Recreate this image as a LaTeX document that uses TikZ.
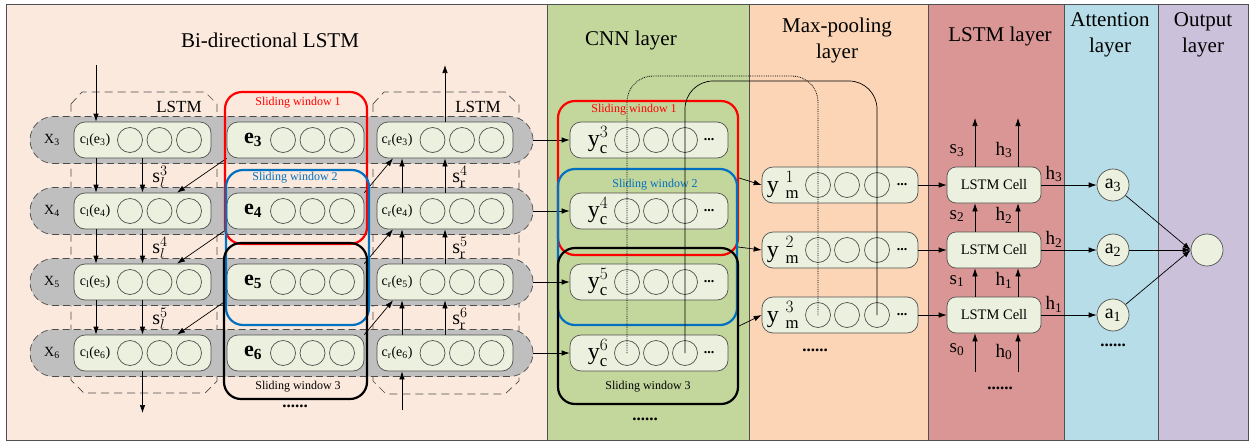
\documentclass[tikz,border=0pt]{standalone}
\usepackage{fontspec}
\setmainfont{Liberation Serif}
\setmathrm{Liberation Serif}
\usetikzlibrary{positioning,arrows.meta}
\definecolor{bilstmbg}{RGB}{252,233,221}
\definecolor{cnnbg}{RGB}{195,214,155}
\definecolor{poolbg}{RGB}{251,213,181}
\definecolor{lstmbg}{RGB}{217,150,148}
\definecolor{attbg}{RGB}{183,221,232}
\definecolor{outbg}{RGB}{204,193,218}
\definecolor{cellgrn}{RGB}{235,241,222}
\definecolor{bandgray}{RGB}{191,191,191}
\definecolor{edgegray}{RGB}{80,80,80}
\definecolor{winblue}{RGB}{0,112,192}
\newcommand{\fsz}[1]{\fontsize{#1}{#1}\selectfont}
\newcommand{\titlefont}{\fontsize{21}{26}\selectfont}

\begin{document}
\begin{tikzpicture}[x=1pt, y=-1pt, line width=0.7pt,
	box/.style={draw=edgegray, fill=cellgrn, rounded corners=11pt, minimum height=36pt, inner sep=0pt},
	unit/.style={circle, draw=edgegray, minimum size=25pt, inner sep=0pt},
	band/.style={draw=black!70, fill=bandgray, dash pattern=on 7pt off 4pt, rounded corners=23.5pt, minimum width=503pt, minimum height=47pt, inner sep=0pt},
	win/.style={rounded corners=17pt, line width=2.2pt, inner sep=0pt},
	wtxt/.style={font=\fsz{12}},
	arr/.style={-{Latex[length=8pt,width=5.5pt]}, line width=0.7pt},
	dots/.style={font=\fsz{17}\bfseries}]
	\useasboundingbox (0,0) rectangle (1249,442);

	% layer panels
	\filldraw[fill=bilstmbg, draw=edgegray] (6,4) rectangle (547,440);
	\filldraw[fill=cnnbg, draw=edgegray] (547,4) rectangle (749,440);
	\filldraw[fill=poolbg, draw=edgegray] (749,4) rectangle (928,440);
	\filldraw[fill=lstmbg, draw=edgegray] (928,4) rectangle (1064,440);
	\filldraw[fill=attbg, draw=edgegray] (1064,4) rectangle (1158,440);
	\filldraw[fill=outbg, draw=edgegray] (1158,4) rectangle (1248,440);

	\node[font=\titlefont] (tbi) at (270,40) {Bi-directional LSTM};
	\node[font=\titlefont] (tcnn) at (631,40) {CNN layer};
	\node[font=\titlefont, align=center] (tpool) at (837,40) {Max-pooling\\layer};
	\node[font=\titlefont] (tlstm) at (1000,36) {LSTM layer};
	\node[font=\titlefont, align=center] (tatt) at (1110,35) {Attention\\layer};
	\node[font=\titlefont, align=center] (tout) at (1203,35) {Output\\layer};

	% forward and backward LSTM frames
	\draw[black!70, dash pattern=on 8pt off 5pt] (71,104) -- (82,92) -- (205,92) -- (217,104) -- (217,381) -- (205,393) -- (84,393) -- (71,380) -- cycle;
	\draw[black!70, dash pattern=on 8pt off 5pt] (373,104) -- (384,92) -- (505,92) -- (519,105) -- (519,381) -- (505,394) -- (386,394) -- (373,381) -- cycle;
	\node[font=\fsz{17}] (lstml) at (179,107) {LSTM};
	\node[font=\fsz{17}] (lstmr) at (478,107) {LSTM};

	% word rows
	\foreach \r [evaluate=\r as \yy using {140+71*(\r-3)}] in {3,4,5,6} {
		\node[band] (band\r) at (281.5,\yy) {};
		\node[font=\fsz{14}] (x\r) at (52,\yy) {X\textsubscript{\r}};
		\node[box, minimum width=137pt] (cl\r) at (142.5,\yy) {};
		\node[box, minimum width=137pt] (e\r) at (295.5,\yy) {};
		\node[box, minimum width=136pt] (cr\r) at (445,\yy) {};
		\node[font=\fsz{14}] (cl\r-l) at ([xshift=-47.5pt]cl\r.center) {c\textsubscript{l}(e\textsubscript{\r})};
		\node[font=\fsz{22}\bfseries] (e\r-l) at ([xshift=-42.5pt]e\r.center) {e\textsubscript{\r}};
		\node[font=\fsz{14}] (cr\r-l) at ([xshift=-48pt]cr\r.center) {c\textsubscript{r}(e\textsubscript{\r})};
		\foreach \dx [count=\k] in {-12.5,17,46.5} {
			\node[unit] (cl\r-\k) at ([xshift=\dx pt]cl\r.center) {};
			\node[unit] (e\r-\k) at ([xshift=\dx pt]e\r.center) {};
			\node[unit] (cr\r-\k) at ([xshift=\dx pt]cr\r.center) {};
		}
	}

	% state flow between rows
	\foreach \r/\n [evaluate=\r as \yy using {140+71*(\r-3)+37}] in {3/4,4/5,5/6} {
		\draw[arr] ([xshift=-46.5pt]cl\r.south) -- ([xshift=-46.5pt]cl\n.north);
		\draw[arr] (cl\r.south) -- (cl\n.north);
		\draw[arr] (e\r.south west) -- ([xshift=34.5pt]cl\n.north);
		\draw[arr] ([xshift=-43pt]cr\n.north) -- ([xshift=-43pt]cr\r.south);
		\draw[arr] (cr\n.north) -- (cr\r.south);
		\draw[arr] (e\n.north east) -- ([xshift=-52pt]cr\r.south);
		\node[font=\fsz{20}] (sl\r) at (160,\yy) {$\mathrm{s}^{\r}_{l}$};
		\node[font=\fsz{20}] (sr\n) at (460,\yy) {$\mathrm{s}^{\n}_{\mathrm{r}}$};
	}
	\coordinate (intop) at (96,65);
	\coordinate (outtop) at (445,65);
	\coordinate (outbot) at (142.5,413);
	\coordinate (inbot) at (402,410);
	\draw[arr] (intop) -- (intop |- cl3.north);
	\draw[arr] (cr3.north) -- (outtop);
	\draw[arr] (cl6.south) -- (outbot);
	\draw[arr] (inbot) -- (inbot |- cr6.south);

	% sliding windows over the embeddings
	\node[win, draw=red, minimum width=142pt, minimum height=152pt] (win1) at (296,168) {};
	\node[win, draw=winblue, minimum width=143pt, minimum height=155pt] (win2) at (297.5,247.5) {};
	\node[win, draw=black, minimum width=143pt, minimum height=156pt] (win3) at (295.5,321) {};
	\node[wtxt, red] (win1-t) at (298,103) {Sliding window 1};
	\node[wtxt, winblue] (win2-t) at (295,178) {Sliding window 2};
	\node[wtxt] (win3-t) at (298,387) {Sliding window 3};
	\node[dots] (dl) at (295,406) {......};

	% CNN layer
	\foreach \r [evaluate=\r as \yy using {140+71*(\r-3)}] in {3,4,5,6} {
		\node[box, minimum width=158pt] (yc\r) at (649,\yy) {};
		\node[font=\fsz{24}] (yc\r-l) at ([xshift=-51pt]yc\r.center) {$\mathrm{y}^{\r}_{\mathrm{c}}$};
		\foreach \dx [count=\k] in {-22,7,36}
			\node[unit] (yc\r-\k) at ([xshift=\dx pt]yc\r.center) {};
		\node[font=\fsz{14}\bfseries] (yc\r-d) at ([xshift=60pt]yc\r.center) {...};
		\draw[arr] (band\r.east) -- (yc\r.west);
	}
	\node[win, draw=red, minimum width=180pt, minimum height=154pt] (cwin1) at (648,178) {};
	\node[win, draw=winblue, minimum width=179pt, minimum height=156pt] (cwin2) at (647.5,247) {};
	\node[win, draw=black, minimum width=180pt, minimum height=156pt] (cwin3) at (648,326) {};
	\node[wtxt, red] (cwin1-t) at (634,110) {Sliding window 1};
	\node[wtxt, winblue] (cwin2-t) at (655,185) {Sliding window 2};
	\node[wtxt] (cwin3-t) at (648,387) {Sliding window 3};
	\node[dots] (dc) at (645,419) {......};

	% max-pooling, LSTM and attention rows
	\foreach \k [evaluate=\k as \yy using {185+65*(\k-1)}, evaluate=\k as \c using {int(4-\k)}] in {1,2,3} {
		\node[box, minimum width=156pt] (ym\k) at (840,\yy) {};
		\node[font=\fsz{24}] (ym\k-l) at ([xshift=-57pt]ym\k.center) {$\mathrm{y}\;{}^{\k}_{\mathrm{m}}$};
		\foreach \dx [count=\j] in {-22,7,37}
			\node[unit] (ym\k-\j) at ([xshift=\dx pt]ym\k.center) {};
		\node[font=\fsz{14}\bfseries] (ym\k-d) at ([xshift=62pt]ym\k.center) {...};
		\node[box, rounded corners=9pt, minimum width=94pt, font=\fsz{14.5}] (cell\c) at (994,\yy) {LSTM Cell};
		\node[circle, draw=edgegray, fill=cellgrn, minimum size=32pt, inner sep=0pt, font=\fsz{20}] (a\c) at (1113,\yy) {a\textsubscript{\c}};
		\node[font=\fsz{19}] (s\c) at (957,\yy-34) {s\textsubscript{\c}};
		\node[font=\fsz{19}] (h\c) at (1004,\yy-35) {h\textsubscript{\c}};
		\node[font=\fsz{19}] (ho\c) at (1054,\yy-11) {h\textsubscript{\c}};
		\draw[arr] (ym\k.east) -- (cell\c.west);
		\draw[arr] (cell\c.east) -- (a\c.west);
	}
	\draw[arr] (cwin1.east) -- (ym1.west);
	\draw[arr] (cwin2.east) -- (ym2.west);
	\draw[arr] (cwin3.east) -- (ym3.west);
	\node[dots] (dp) at (815,350) {......};

	% feature taps from the CNN map to the pooled rows
	\coordinate (dtop) at (0,76);
	\coordinate (stop) at (0,81);
	\draw[densely dotted, line width=0.8pt, rounded corners=26pt] (yc6-1.center) -- (yc6-1.center |- dtop) -- (ym3-1.center |- dtop) -- (ym3-1.center);
	\draw[rounded corners=28pt] (yc6-3.center) -- (yc6-3.center |- stop) -- (ym3-3.center |- stop) -- (ym3-3.center);

	% recurrent links of the LSTM layer
	\foreach \c/\d in {1/2,2/3} {
		\draw[arr] ([xshift=-19pt]cell\c.north) -- ([xshift=-19pt]cell\d.south);
		\draw[arr] ([xshift=24pt]cell\c.north) -- ([xshift=24pt]cell\d.south);
	}
	\coordinate (s4) at (975,118);
	\coordinate (h4) at (1018,118);
	\coordinate (s0c) at (975,372);
	\coordinate (h0c) at (1018,372);
	\draw[arr] ([xshift=-19pt]cell3.north) -- (s4);
	\draw[arr] ([xshift=24pt]cell3.north) -- (h4);
	\draw[arr] (s0c) -- (s0c |- cell1.south);
	\draw[arr] (h0c) -- (h0c |- cell1.south);
	\node[font=\fsz{19}] (s0) at (957,350) {s\textsubscript{0}};
	\node[font=\fsz{19}] (h0) at (1004,352) {h\textsubscript{0}};
	\node[dots] (ds) at (1000,388) {......};

	% attention and output
	\node[dots] (da) at (1113,345) {......};
	\node[circle, draw=edgegray, fill=cellgrn, minimum size=32pt, inner sep=0pt] (out) at (1207,250) {};
	\draw[arr] (a3) -- (out.west);
	\draw[arr] (a2) -- (out.west);
	\draw[arr] (a1) -- (out.west);
\end{tikzpicture}
\end{document}
